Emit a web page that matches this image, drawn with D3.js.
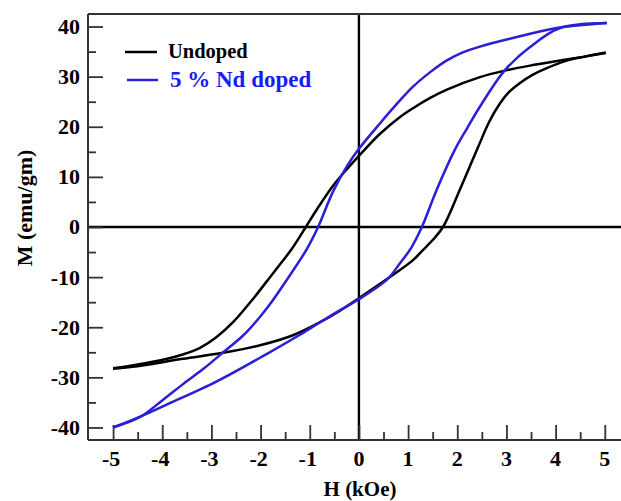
<!DOCTYPE html>
<html>
<head>
<meta charset="utf-8">
<script src="https://cdn.jsdelivr.net/npm/d3@7"></script>
<style>
  body { margin: 0; background: #fff; }
  svg text { font-family: "Liberation Serif", "Times New Roman", serif; font-weight: bold; }
</style>
</head>
<body>
<div id="chart"></div>
<script>
// Undoped loop, descending branch (H from +5 to -5)
const undopedDownH = [5.02, 4.15, 3.48, 2.97, 2.46, 1.79, 1.44, 1.1, 0.83, 0.43, 0, -0.24, -0.53, -0.85, -1.08, -1.36, -1.6, -1.87, -2.15, -2.56, -2.9, -3.23, -3.6, -3.9, -4.59, -5.0];
const undopedDownM = [34.7, 33.3, 32.2, 31.2, 29.9, 27.4, 25.7, 23.7, 21.9, 18.6, 14.2, 11.6, 8.2, 3.6, 0, -4.3, -7.4, -10.8, -14.3, -19.0, -22.0, -24.1, -25.5, -26.3, -27.6, -28.2];
// Undoped loop, ascending branch (H from -5 to +5)
const undopedUpH = [-5.0, -4.6, -3.58, -2.76, -2.01, -1.34, -0.79, -0.4, 0, 0.57, 1.1, 1.3, 1.5, 1.71, 2.05, 2.4, 2.65, 2.85, 3.05, 3.27, 3.54, 3.82, 4.23, 4.6, 5.02];
const undopedUpM = [-28.3, -27.9, -26.3, -25.1, -23.6, -21.6, -19.0, -16.8, -14.2, -10.4, -6.6, -4.6, -2.6, 0, 7.4, 15.4, 21.0, 24.4, 26.9, 28.7, 30.4, 31.7, 33.2, 34.0, 34.8];

// 5 % Nd doped loop, descending branch
const ndDownH = [5.04, 4.15, 3.82, 3.13, 2.46, 2.1, 1.78, 1.45, 1.1, 0.83, 0.43, 0, -0.24, -0.53, -0.83, -1.06, -1.47, -1.75, -2.01, -2.35, -2.76, -3.15, -3.57, -4.0, -4.45, -5.0];
const ndDownM = [40.7, 39.9, 39.3, 37.7, 36.0, 34.8, 33.2, 30.9, 28.0, 25.2, 20.7, 15.6, 12.2, 7.0, 0, -4.4, -10.6, -14.6, -17.9, -21.6, -25.0, -28.2, -31.3, -34.6, -37.9, -40.0];
// 5 % Nd doped loop, ascending branch
const ndUpH = [-5.0, -4.51, -3.9, -2.89, -1.87, -1.2, -0.79, -0.4, 0, 0.57, 0.83, 1.06, 1.28, 1.58, 1.95, 2.2, 2.46, 2.97, 3.48, 4.09, 5.04];
const ndUpM = [-40.0, -38.1, -35.4, -30.8, -25.3, -21.5, -19.0, -16.7, -14.4, -10.5, -7.3, -4.2, 0, 7.4, 15.4, 19.7, 24.0, 31.3, 35.9, 39.7, 40.7];

const xTicks = [-5, -4, -3, -2, -1, 0, 1, 2, 3, 4, 5];
const yTicks = [-40, -30, -20, -10, 0, 10, 20, 30, 40];
const legendNames = ["Undoped", "5 % Nd doped"];

const width = 621, height = 501;
const margin = {left: 88, right: 0, top: 14, bottom: 61};

const svg = d3.select("#chart").append("svg")
    .attr("width", width)
    .attr("height", height)
    .attr("viewBox", `0 0 ${width} ${height}`);

const x = d3.scaleLinear().domain([-5.51, 5.33]).range([margin.left, width - margin.right]);
const y = d3.scaleLinear().domain([-42.5, 42.5]).range([height - margin.bottom, margin.top]);

const frameColor = "#333";
const black = "#000";
const blue = "#2a1fd6";

// zero lines
svg.append("line")
    .attr("x1", x.range()[0]).attr("x2", x.range()[1])
    .attr("y1", y(0)).attr("y2", y(0))
    .attr("stroke", black).attr("stroke-width", 2.4);
svg.append("line")
    .attr("x1", x(0)).attr("x2", x(0))
    .attr("y1", y.range()[1]).attr("y2", y.range()[0])
    .attr("stroke", black).attr("stroke-width", 2.4);

// frame: left, top, bottom
const frame = svg.append("g").attr("stroke", frameColor).attr("stroke-width", 2);
frame.append("line").attr("x1", margin.left).attr("x2", margin.left).attr("y1", y.range()[1]).attr("y2", y.range()[0]);
frame.append("line").attr("x1", margin.left).attr("x2", width).attr("y1", y.range()[1]).attr("y2", y.range()[1]);
frame.append("line").attr("x1", margin.left).attr("x2", width).attr("y1", y.range()[0]).attr("y2", y.range()[0]);

// y axis: ticks inside
const yAxis = svg.append("g")
    .attr("transform", `translate(${margin.left},0)`)
    .call(d3.axisRight(y).tickValues(d3.range(-40, 41, 5)).tickSize(8).tickFormat(""));
yAxis.select(".domain").remove();
yAxis.selectAll(".tick line")
    .attr("stroke", frameColor).attr("stroke-width", 1.8)
    .attr("x2", d => d % 10 === 0 ? 15 : 8);

svg.append("g").selectAll("text")
    .data(yTicks)
    .join("text")
    .attr("x", 80)
    .attr("y", d => y(d))
    .attr("dy", "0.34em")
    .attr("text-anchor", "end")
    .attr("font-size", 22)
    .text(d => d);

// x axis: ticks inside
const xAxis = svg.append("g")
    .attr("transform", `translate(0,${y.range()[0]})`)
    .call(d3.axisTop(x).tickValues(d3.range(-5, 5.01, 0.5)).tickSize(8).tickFormat(""));
xAxis.select(".domain").remove();
xAxis.selectAll(".tick line")
    .attr("stroke", frameColor).attr("stroke-width", 1.8)
    .attr("y2", d => Number.isInteger(d) ? -15 : -8);

svg.append("g").selectAll("text")
    .data(xTicks)
    .join("text")
    .attr("x", d => x(d) - (d < 0 ? 2 : 0))
    .attr("y", 466)
    .attr("text-anchor", "middle")
    .attr("font-size", 22)
    .text(d => d);

// axis titles
svg.append("text")
    .attr("x", 360).attr("y", 496)
    .attr("text-anchor", "middle")
    .attr("font-size", 21)
    .text("H (kOe)");
svg.append("text")
    .attr("transform", "translate(32,208) rotate(-90)")
    .attr("text-anchor", "middle")
    .attr("font-size", 22)
    .text("M (emu/gm)");

// loops
const line = d3.line()
    .x(d => x(d[0]))
    .y(d => y(d[1]))
    .curve(d3.curveCatmullRom.alpha(0.5));

function loop(downH, downM, upH, upM) {
    const down = downH.map((h, i) => [h, downM[i]]);
    const up = upH.map((h, i) => [h, upM[i]]);
    return [down, up];
}

const series = [
    {name: legendNames[0], color: black, branches: loop(undopedDownH, undopedDownM, undopedUpH, undopedUpM)},
    {name: legendNames[1], color: blue, branches: loop(ndDownH, ndDownM, ndUpH, ndUpM)}
];

series.forEach(s => {
    svg.append("g").selectAll("path")
        .data(s.branches)
        .join("path")
        .attr("d", line)
        .attr("fill", "none")
        .attr("stroke", s.color)
        .attr("stroke-width", 2.5)
        .attr("stroke-linejoin", "round");
});

// legend
const legend = svg.append("g");
legend.append("line").attr("x1", 125).attr("x2", 157).attr("y1", 52).attr("y2", 52)
    .attr("stroke", black).attr("stroke-width", 2.5);
legend.append("text").attr("x", 168).attr("y", 58).attr("font-size", 20.5)
    .attr("fill", black).text(legendNames[0]);
legend.append("line").attr("x1", 127).attr("x2", 158).attr("y1", 80).attr("y2", 80)
    .attr("stroke", blue).attr("stroke-width", 2.5);
legend.append("text").attr("x", 170).attr("y", 87).attr("font-size", 23)
    .attr("fill", "#1a1aff").text(legendNames[1]);
</script>
</body>
</html>
